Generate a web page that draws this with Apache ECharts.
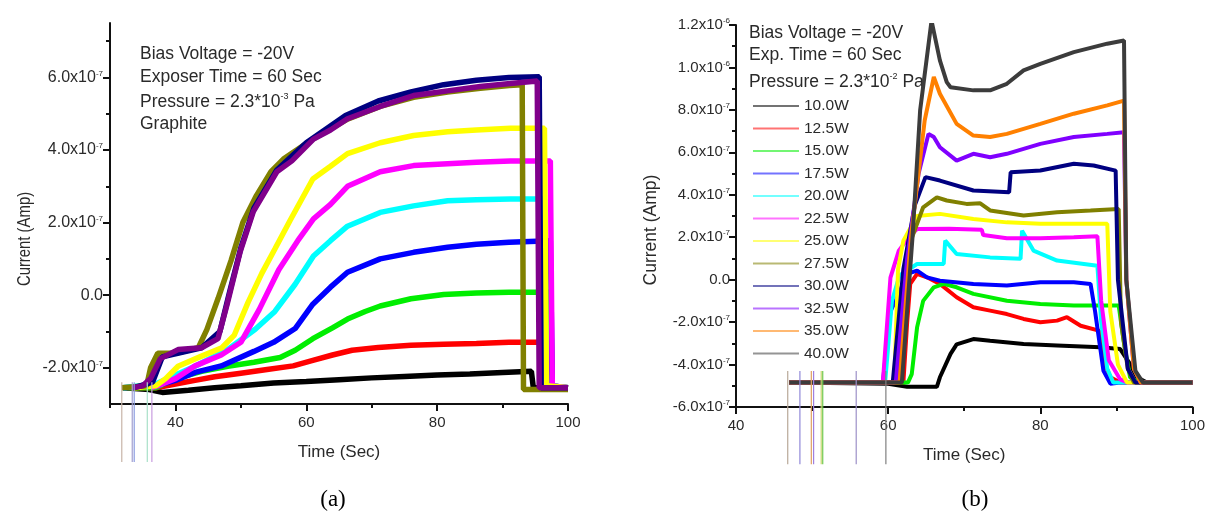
<!DOCTYPE html>
<html>
<head>
<meta charset="utf-8">
<style>
  html, body { margin: 0; padding: 0; background: #fff; }
  #main { width: 1208px; height: 519px; }
</style>
</head>
<body>
<div id="main"></div>
<script src="https://cdn.jsdelivr.net/npm/echarts@6/dist/echarts.min.js"></script>
<script>
// values are in units of 1e-7 A, time in seconds

// ---- panel (a) ----
var aBlack = [[32,-2.55],[36,-2.6],[38,-2.68],[42,-2.62],[46,-2.55],[50,-2.5],[55,-2.42],[60,-2.38],[65,-2.33],[70,-2.28],[75,-2.24],[80,-2.2],[85,-2.17],[90,-2.13],[94.4,-2.1],[94.7,-2.55],[100,-2.55]];
var aRed = [[32,-2.55],[37,-2.55],[40,-2.45],[43,-2.35],[46,-2.25],[50,-2.15],[54,-2.05],[58,-1.95],[61,-1.8],[64,-1.65],[67,-1.52],[71,-1.44],[76,-1.38],[81,-1.35],[86,-1.33],[91,-1.3],[96.4,-1.3],[96.7,-2.5],[100,-2.55]];
var aGreen = [[32,-2.55],[37,-2.55],[40,-2.3],[44,-2.1],[48,-1.96],[52,-1.85],[56,-1.72],[58.3,-1.52],[61,-1.2],[64,-0.9],[66.3,-0.66],[69,-0.45],[71.3,-0.3],[76,-0.1],[81,0.02],[86,0.06],[91,0.08],[97.3,0.08],[97.6,-2.5],[100,-2.55]];
var aBlue = [[32,-2.55],[37,-2.5],[40,-2.35],[43,-2.13],[47,-1.95],[52,-1.55],[55,-1.3],[58.3,-0.92],[61,-0.25],[63.7,0.22],[66.3,0.63],[71.3,1.0],[76.4,1.18],[81.6,1.32],[86,1.4],[91,1.46],[97.3,1.5],[97.6,-2.5],[100,-2.55]];
var aCyan = [[32,-2.55],[37,-2.45],[40,-2.2],[43,-1.96],[48,-1.5],[52.2,-0.94],[55.2,-0.45],[58.3,0.3],[61.1,1.08],[63.7,1.5],[66.3,1.9],[71.3,2.28],[76.4,2.46],[81.6,2.6],[86,2.63],[91.2,2.65],[96.4,2.65],[96.7,-2.5],[100,-2.55]];
var aMagenta = [[36.4,-2.55],[38,-2.45],[40,-2.3],[43,-1.95],[47,-1.65],[50,-1.3],[52.8,-0.4],[55.8,0.7],[58.7,1.5],[61.1,2.1],[63.7,2.5],[66.3,3.0],[71.3,3.4],[76.4,3.57],[81.6,3.62],[86,3.66],[91.2,3.7],[97.3,3.7],[97.6,-2.5],[100,-2.55]];
var aYellow = [[33.7,-2.55],[37,-2.5],[38.5,-2.3],[40.4,-1.96],[44,-1.68],[47.1,-1.45],[49,-1.1],[51.1,-0.2],[53.2,0.6],[55.2,1.27],[57.5,2.05],[61,3.2],[63.7,3.55],[66.3,3.9],[71.3,4.2],[76.4,4.4],[81.6,4.5],[86,4.55],[91.2,4.6],[96.4,4.6],[96.7,-2.5],[100,-2.55]];
var aOlive = [[31.8,-2.55],[35.6,-2.5],[36.2,-2.0],[37.3,-1.6],[40,-1.6],[43.5,-1.45],[44.8,-0.95],[46.5,-0.1],[48.5,0.95],[50.3,2.0],[52.4,2.75],[54.6,3.4],[56.5,3.75],[61,4.3],[66.3,4.85],[71.3,5.2],[76.4,5.45],[81.6,5.6],[86.6,5.7],[91,5.78],[93,5.8],[93.2,-2.6],[100,-2.6]];
var aNavy = [[33.7,-2.55],[36.5,-2.4],[38,-1.7],[44,-1.45],[46.8,-1.0],[48.3,0.1],[50,1.3],[52,2.4],[55.5,3.45],[60,4.2],[66,4.95],[71,5.35],[76,5.6],[81,5.8],[86,5.92],[91,6.0],[95.6,6.02],[95.9,-2.55],[100,-2.55]];
var aPurple = [[33.4,-2.55],[35,-2.5],[36.2,-2.3],[37.7,-1.75],[40.4,-1.5],[44,-1.45],[46.5,-1.2],[47.9,-0.25],[49.9,1.2],[51.9,2.3],[55.5,3.4],[57.8,3.7],[61.1,4.3],[63.7,4.55],[66.3,4.86],[71.3,5.2],[76.4,5.5],[81.6,5.63],[86.6,5.75],[91.2,5.83],[95.3,5.9],[95.6,-2.55],[100,-2.55]];
var aGlitchT = [31.8, 33.4, 33.7, 35.7, 36.4];
var aGlitchRange = [-4.6, -2.4];

// ---- panel (b) ----
var bPower = ['10.0W','12.5W','15.0W','17.5W','20.0W','22.5W','25.0W','27.5W','30.0W','32.5W','35.0W','40.0W'];
var b100 = [[47,-4.85],[60,-4.9],[62.5,-5.05],[66.4,-5.05],[66.8,-4.6],[68.2,-3.5],[69,-3.05],[71.2,-2.8],[73.4,-2.88],[77.8,-3.03],[82.2,-3.1],[87.9,-3.19],[90.5,-3.27],[91.8,-3.98],[92.7,-4.6],[94,-4.85],[100,-4.85]];
var b125 = [[47,-4.85],[62,-4.85],[62.5,-2.0],[62.9,-0.2],[63.8,0.27],[65.1,0.11],[66.8,-0.2],[69,-0.83],[71.2,-1.3],[73.4,-1.46],[75.6,-1.62],[77.8,-1.85],[80,-2.01],[82.2,-1.93],[83.5,-1.77],[85.3,-2.17],[87.7,-2.4],[88.3,-3.8],[89.2,-4.6],[90.5,-4.85],[100,-4.85]];
var b150 = [[47,-4.85],[62.6,-4.85],[63.1,-4.45],[63.8,-2.25],[64.6,-1.0],[66,-0.36],[67.3,-0.2],[69,-0.36],[71.2,-0.67],[75.6,-0.99],[80,-1.15],[84.4,-1.22],[90.3,-1.22],[91,-3.0],[91.8,-4.6],[93,-4.85],[100,-4.85]];
var b175 = [[47,-4.85],[59.3,-4.85],[60.3,-1.5],[61.4,-0.67],[62.5,0.27],[63.8,0.43],[65.1,0.11],[66.8,-0.05],[71.2,-0.2],[75.6,-0.28],[80,-0.12],[84.4,-0.12],[86.6,-0.2],[87.2,-1.5],[88.3,-4.3],[89.2,-4.9],[90.5,-4.85],[100,-4.85]];
var b200 = [[47,-4.85],[59.6,-4.85],[60.5,-1.0],[61.5,0.2],[63.8,0.74],[67.3,0.74],[67.5,1.84],[69,1.21],[73.4,1.05],[77.4,0.98],[77.6,2.31],[79.1,1.37],[82.2,0.9],[87.5,0.66],[88,-2.0],[88.8,-4.2],[89.6,-4.85],[100,-4.85]];
var b225 = [[47,-4.85],[59.3,-4.85],[60.3,0.1],[61.4,1.37],[62.5,1.9],[63.8,2.39],[68,2.4],[72.3,2.35],[72.5,2.1],[75.6,1.95],[80,1.95],[84.4,2.0],[87.5,2.05],[88,-1.0],[89,-3.8],[90.5,-4.7],[91.5,-4.85],[100,-4.85]];
var b250 = [[47,-4.85],[60.8,-4.85],[61.3,0.5],[62,1.84],[63.8,3.0],[66.8,3.1],[71.2,2.86],[75.6,2.7],[80,2.63],[84.4,2.63],[88.8,2.63],[89.2,-1.5],[90.2,-4.0],[91.4,-4.85],[100,-4.85]];
var b275 = [[47,-4.85],[61.3,-4.85],[62,-1.0],[62.5,1.37],[64.6,3.41],[66.4,3.88],[67.7,3.73],[70.3,3.57],[72.1,3.6],[73.4,3.26],[77.8,3.02],[82.2,3.18],[86.6,3.26],[90.3,3.33],[90.6,-2.0],[91.5,-4.2],[92.3,-4.85],[100,-4.85]];
var b300 = [[47,-4.85],[60.6,-4.85],[62,0.5],[63.5,3.5],[64.9,4.83],[66.8,4.67],[71.2,4.2],[75.9,4.12],[76.1,5.06],[80,5.14],[84.4,5.46],[87,5.38],[89.9,5.14],[90.2,0.0],[91.5,-4.2],[92.5,-4.85],[100,-4.85]];
var b325 = [[47,-4.85],[61,-4.85],[62.5,1.0],[64,5.0],[65.3,6.87],[66,6.72],[66.8,6.24],[69,5.61],[71.2,5.93],[73.4,5.77],[75.6,5.93],[80,6.4],[84.4,6.72],[88.8,6.87],[91,6.95],[91.3,0.0],[92.3,-4.2],[93.2,-4.85],[100,-4.85]];
var b350 = [[47,-4.85],[61.5,-4.85],[63,2.0],[64.8,7.5],[66,9.55],[66.8,8.76],[69,7.34],[71.2,6.79],[73.4,6.72],[75.6,6.87],[80,7.34],[84.4,7.82],[88.8,8.21],[91,8.44],[91.3,0.0],[92.3,-4.2],[93.2,-4.85],[100,-4.85]];
var b400 = [[47,-4.85],[61.8,-4.85],[63.2,2.0],[64.2,7.97],[65.7,12.2],[66.8,10.33],[67.7,9.31],[68.2,9.07],[71.2,8.92],[73.4,8.92],[75.6,9.23],[77.8,9.86],[80,10.17],[84.4,10.72],[88.8,11.12],[91,11.27],[91.3,0.0],[92.5,-4.3],[93.5,-4.85],[100,-4.85]];
var bGlitchT = [46.8, 48.4, 49.9, 50.2, 51.2, 51.4, 55.8, 59.7];
var bGlitchRange = [-8.7, -4.3];

// tick positions
var aXMajor = [40, 60, 80, 100], aXMinor = [30, 50, 70, 90];
var aYMajor = [-2, 0, 2, 4, 6], aYMinor = [-1, 1, 3, 5, 7];
var bXMajor = [40, 60, 80, 100], bXMinor = [50, 70, 90];
var bYMajor = [-6, -4, -2, 0, 2, 4, 6, 8, 10, 12], bYMinor = [-5, -3, -1, 1, 3, 5, 7, 9, 11];

// colours
var aSeries = [aBlack, aRed, aGreen, aBlue, aCyan, aMagenta, aYellow, aOlive, aNavy, aPurple];
var aColors = ['#000000', '#ff0000', '#00ee00', '#0000ff', '#00ffff', '#ff00ff', '#ffff00', '#808000', '#000080', '#80008a'];
var aGlitchColors = ['#c8b4a8', '#a4a0d0', '#8c9ce0', '#a8e0c8', '#c89ce0'];
var bSeries = [b100, b125, b150, b175, b200, b225, b250, b275, b300, b325, b350, b400];
var bColors = ['#000000', '#ff0000', '#00ee00', '#0000ff', '#00ffff', '#ff00ff', '#ffff00', '#808000', '#000080', '#8000ff', '#ff8000', '#3c3c3c'];
var bGlitchColors = ['#b8a898', '#9088d8', '#e0a060', '#a080e0', '#c8d870', '#70c850', '#9c90c8', '#808080'];

var FONT = '"Liberation Sans", Arial, sans-serif';
var TXT = '#2a2a2a';

var myChart = echarts.init(document.getElementById('main'), null, { renderer: 'canvas' });

function sciLabel(v) {
  if (v === 0) return '{n|0.0}';
  if (Math.abs(v) >= 10) return '{n|' + (v / 10).toFixed(1) + 'x10}{e|-6}';
  return '{n|' + v.toFixed(1) + 'x10}{e|-7}';
}
function labelRich(size) {
  return {
    n: { fontSize: size, fontFamily: FONT, color: TXT, lineHeight: 16 },
    e: { fontSize: 8, fontFamily: FONT, color: TXT, lineHeight: 16, verticalAlign: 'top' }
  };
}

function mainX(grid, min, major) {
  return {
    type: 'value', gridIndex: grid, min: min, max: 100, interval: 10, position: 'bottom',
    axisLine: { onZero: false, lineStyle: { color: '#111', width: 2 } },
    axisTick: { customValues: major, length: 7, lineStyle: { color: '#111', width: 2 } },
    axisLabel: { customValues: major, margin: 11, fontSize: 15, fontFamily: FONT, color: TXT },
    splitLine: { show: false },
    name: 'Time (Sec)', nameLocation: 'middle', nameGap: 40,
    nameTextStyle: { fontSize: 17, fontFamily: FONT, color: TXT }
  };
}
function minorX(grid, min, minor) {
  return {
    type: 'value', gridIndex: grid, min: min, max: 100, interval: 10, position: 'bottom',
    axisLine: { show: false, onZero: false },
    axisTick: { customValues: minor, length: 4, lineStyle: { color: '#111', width: 2 } },
    axisLabel: { show: false }, splitLine: { show: false }
  };
}
function mainY(grid, min, max, major, margin, size) {
  return {
    type: 'value', gridIndex: grid, min: min, max: max, interval: 1, position: 'left',
    axisLine: { onZero: false, lineStyle: { color: '#111', width: 2 } },
    axisTick: { customValues: major, length: 7, lineStyle: { color: '#111', width: 2 } },
    axisLabel: { customValues: major, margin: margin, formatter: sciLabel, rich: labelRich(size) },
    splitLine: { show: false }
  };
}
function minorY(grid, min, max, minor) {
  return {
    type: 'value', gridIndex: grid, min: min, max: max, interval: 1, position: 'left',
    axisLine: { show: false, onZero: false },
    axisTick: { customValues: minor, length: 4, lineStyle: { color: '#111', width: 2 } },
    axisLabel: { show: false }, splitLine: { show: false }
  };
}

var series = [];
aSeries.forEach(function (d, i) {
  series.push({
    type: 'line', name: 'a' + i, xAxisIndex: 0, yAxisIndex: 0, data: d,
    symbol: 'none', silent: true, color: aColors[i],
    lineStyle: { width: 5.5, color: aColors[i] }
  });
});
aGlitchT.forEach(function (t, i) {
  series.push({
    type: 'line', name: 'ag' + i, xAxisIndex: 0, yAxisIndex: 0, clip: false,
    data: [[t, aGlitchRange[0]], [t, aGlitchRange[1]]],
    symbol: 'none', silent: true, lineStyle: { width: 1.2, color: aGlitchColors[i] }
  });
});
bSeries.forEach(function (d, i) {
  series.push({
    type: 'line', name: bPower[i], xAxisIndex: 2, yAxisIndex: 2, data: d,
    symbol: 'none', silent: true, color: bColors[i],
    lineStyle: { width: 4, color: bColors[i] }
  });
});
bGlitchT.forEach(function (t, i) {
  series.push({
    type: 'line', name: 'bg' + i, xAxisIndex: 2, yAxisIndex: 2, clip: false,
    data: [[t, bGlitchRange[0]], [t, bGlitchRange[1]]],
    symbol: 'none', silent: true, lineStyle: { width: 1.2, color: bGlitchColors[i] }
  });
});

var annoRich = {
  t: { fontSize: 17.5, fontFamily: FONT, fill: TXT, lineHeight: 20 },
  e: { fontSize: 9, fontFamily: FONT, fill: TXT, lineHeight: 20, verticalAlign: 'top' }
};
function anno(x, y, text) {
  return {
    type: 'text', left: x, top: y, silent: true,
    style: { text: text, rich: annoRich, fill: TXT }
  };
}

var option = {
  animation: false,
  backgroundColor: '#ffffff',
  grid: [
    { left: 110, top: 23, width: 458, height: 381 },
    { left: 736, top: 25, width: 457, height: 382 }
  ],
  xAxis: [mainX(0, 30, aXMajor), minorX(0, 30, aXMinor), mainX(1, 40, bXMajor), minorX(1, 40, bXMinor)],
  yAxis: [mainY(0, -3, 7.5, aYMajor, 7, 16), minorY(0, -3, 7.5, aYMinor), mainY(1, -6, 12, bYMajor, 6, 15), minorY(1, -6, 12, bYMinor)],
  legend: {
    data: bPower, orient: 'vertical', left: 748, top: 93,
    icon: 'rect', itemWidth: 46, itemHeight: 2, itemGap: 6.5,
    selectedMode: false,
    itemStyle: { opacity: 0.55 },
    textStyle: { fontSize: 15.5, fontFamily: FONT, color: TXT, lineHeight: 16 }
  },
  graphic: [
    anno(140, 45, '{t|Bias Voltage = -20V}'),
    anno(140, 68, '{t|Exposer Time = 60 Sec}'),
    anno(140, 92, '{t|Pressure = 2.3*10}{e|-3}{t| Pa}'),
    anno(140, 115, '{t|Graphite}'),
    anno(749, 24, '{t|Bias Voltage = -20V}'),
    anno(749, 46, '{t|Exp. Time = 60 Sec}'),
    anno(749, 72, '{t|Pressure = 2.3*10}{e|-2}{t| Pa}'),
    {
      type: 'text', x: 25, y: 239, rotation: Math.PI / 2, scaleX: 0.85, silent: true,
      style: { text: 'Current (Amp)', fontSize: 17.5, fontFamily: FONT, fill: TXT, align: 'center', verticalAlign: 'middle' }
    },
    {
      type: 'text', x: 651, y: 230, rotation: Math.PI / 2, silent: true,
      style: { text: 'Current (Amp)', fontSize: 17.5, fontFamily: FONT, fill: TXT, align: 'center', verticalAlign: 'middle' }
    },
    {
      type: 'text', x: 333, y: 500, silent: true,
      style: { text: '(a)', fontSize: 23, fontFamily: '"Liberation Serif", "Times New Roman", serif', fill: '#000', align: 'center', verticalAlign: 'middle' }
    },
    {
      type: 'text', x: 975, y: 500, silent: true,
      style: { text: '(b)', fontSize: 23, fontFamily: '"Liberation Serif", "Times New Roman", serif', fill: '#000', align: 'center', verticalAlign: 'middle' }
    }
  ],
  series: series
};

myChart.setOption(option);
</script>
</body>
</html>
